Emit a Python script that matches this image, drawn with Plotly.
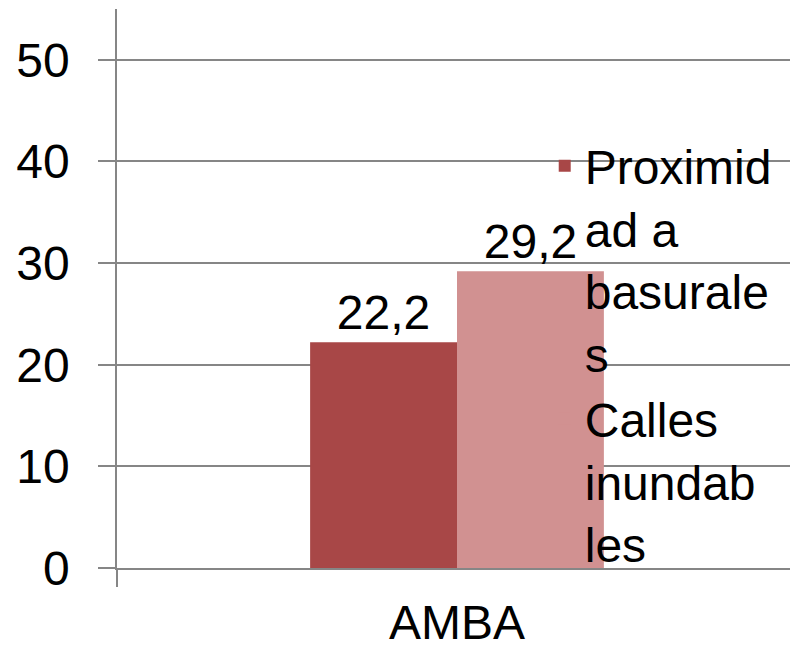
import plotly.graph_objects as go

# data
categories = ["AMBA"]
series_names = ["Proximid<br>ad a<br>basurale<br>s", "Calles<br>inundab<br>les"]
proximidad = [22.2]
calles = [29.2]
y_ticks = [0, 10, 20, 30, 40, 50]

colors = ["#A84747", "#D19191"]
font = "Liberation Sans"
grid = "#868686"

fig = go.Figure()
for name, vals, col in zip(series_names, [proximidad, calles], colors):
    fig.add_trace(go.Bar(
        x=categories, y=vals, name=name,
        marker=dict(color=col, line=dict(width=0)),
        texttemplate="%{y:.1f}", textposition="outside",
        textfont=dict(family=font, size=48, color="black"),
        cliponaxis=False,
    ))

# the page body adds an 8px offset, so margins are shifted to compensate
fig.update_layout(
    width=790, height=645,
    margin=dict(l=109, r=1, t=1, b=85),
    paper_bgcolor="white", plot_bgcolor="white",
    barmode="group", bargap=0.568, bargroupgap=0,
    separators=",.",
    font=dict(family=font, size=48, color="black"),
    legend=dict(
        x=0.629, xanchor="left", y=0.787, yanchor="top",
        font=dict(family=font, size=48, color="black"),
        valign="top", bgcolor="rgba(0,0,0,0)", borderwidth=0,
        traceorder="normal",
    ),
)
fig.update_xaxes(
    showline=True, linecolor=grid, linewidth=1.5,
    ticks="outside", tickson="boundaries", ticklen=17, tickcolor=grid, tickwidth=1.5,
    range=[-0.5, 0.5], tickfont=dict(size=48), ticklabelstandoff=12,
)
fig.update_yaxes(
    range=[0, 55], tickvals=y_ticks,
    showgrid=True, gridcolor=grid, gridwidth=1.5,
    showline=True, linecolor=grid, linewidth=1.5, zeroline=False,
    ticks="outside", ticklen=17, tickcolor=grid, tickwidth=1.5,
    ticklabelstandoff=19, tickfont=dict(size=48),
)

fig.write_html("out.html")
